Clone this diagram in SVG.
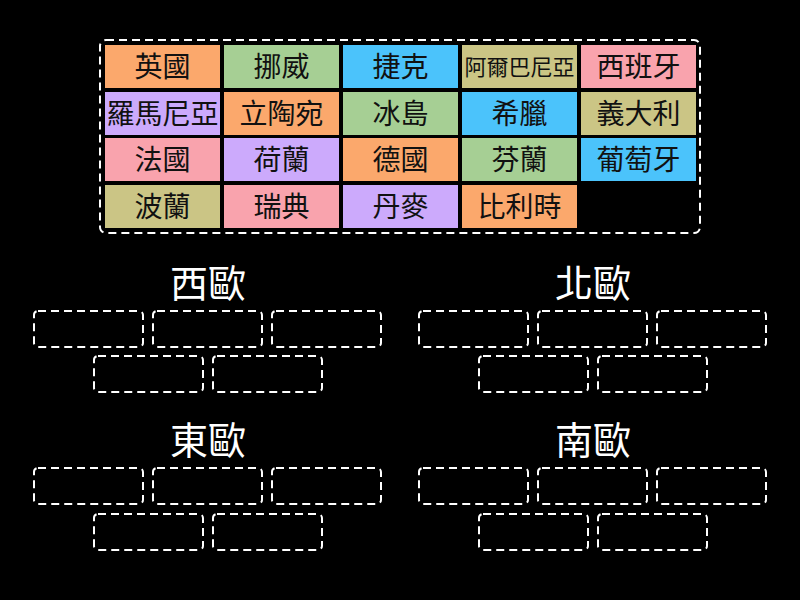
<svg xmlns="http://www.w3.org/2000/svg" width="800" height="600" viewBox="0 0 800 600">
<style>
.bg{fill:#000}
.frame{fill:none;stroke:#fff;stroke-width:2;stroke-dasharray:8 5}
.slot{fill:none;stroke:#fff;stroke-width:2;stroke-dasharray:8 5}
.t{font-family:"Noto Sans CJK TC","Noto Sans CJK SC",sans-serif;font-size:28px;fill:#111;text-anchor:middle}
.s{font-size:22px}
.h{font-family:"Noto Sans CJK TC","Noto Sans CJK SC",sans-serif;font-size:38px;fill:#fff;text-anchor:middle}
.o{fill:#fba86c}.g{fill:#a6cf94}.b{fill:#4bc3fb}.k{fill:#cbc585}.p{fill:#f9a3ad}.v{fill:#ccaafc}
</style>
<rect class="bg" x="0" y="0" width="800" height="600"/>
<rect class="frame" x="100" y="40" width="600" height="193" rx="6"/>
<g id="cards">
<g id="c1"><rect class="o" x="105" y="45" width="115" height="43"/><text class="t" x="162.5" y="77">英國</text></g>
<g id="c2"><rect class="g" x="224" y="45" width="115" height="43"/><text class="t" x="281.5" y="77">挪威</text></g>
<g id="c3"><rect class="b" x="343" y="45" width="115" height="43"/><text class="t" x="400.5" y="77">捷克</text></g>
<g id="c4"><rect class="k" x="462" y="45" width="115" height="43"/><text class="t s" x="519.5" y="74.5">阿爾巴尼亞</text></g>
<g id="c5"><rect class="p" x="581" y="45" width="115" height="43"/><text class="t" x="638.5" y="77">西班牙</text></g>
<g id="c6"><rect class="v" x="105" y="92" width="115" height="43"/><text class="t" x="162.5" y="124">羅馬尼亞</text></g>
<g id="c7"><rect class="o" x="224" y="92" width="115" height="43"/><text class="t" x="281.5" y="124">立陶宛</text></g>
<g id="c8"><rect class="g" x="343" y="92" width="115" height="43"/><text class="t" x="400.5" y="124">冰島</text></g>
<g id="c9"><rect class="b" x="462" y="92" width="115" height="43"/><text class="t" x="519.5" y="124">希臘</text></g>
<g id="c10"><rect class="k" x="581" y="92" width="115" height="43"/><text class="t" x="638.5" y="124">義大利</text></g>
<g id="c11"><rect class="p" x="105" y="138" width="115" height="43"/><text class="t" x="162.5" y="170">法國</text></g>
<g id="c12"><rect class="v" x="224" y="138" width="115" height="43"/><text class="t" x="281.5" y="170">荷蘭</text></g>
<g id="c13"><rect class="o" x="343" y="138" width="115" height="43"/><text class="t" x="400.5" y="170">德國</text></g>
<g id="c14"><rect class="g" x="462" y="138" width="115" height="43"/><text class="t" x="519.5" y="170">芬蘭</text></g>
<g id="c15"><rect class="b" x="581" y="138" width="115" height="43"/><text class="t" x="638.5" y="170">葡萄牙</text></g>
<g id="c16"><rect class="k" x="105" y="185" width="115" height="43"/><text class="t" x="162.5" y="217">波蘭</text></g>
<g id="c17"><rect class="p" x="224" y="185" width="115" height="43"/><text class="t" x="281.5" y="217">瑞典</text></g>
<g id="c18"><rect class="v" x="343" y="185" width="115" height="43"/><text class="t" x="400.5" y="217">丹麥</text></g>
<g id="c19"><rect class="o" x="462" y="185" width="115" height="43"/><text class="t" x="519.5" y="217">比利時</text></g>
</g>
<g id="west">
<text class="h" x="208" y="297">西歐</text>
<rect class="slot" x="34" y="311" width="109" height="36" rx="4"/>
<rect class="slot" x="153" y="311" width="109" height="36" rx="4"/>
<rect class="slot" x="272" y="311" width="109" height="36" rx="4"/>
<rect class="slot" x="94" y="356" width="109" height="36" rx="4"/>
<rect class="slot" x="213" y="356" width="109" height="36" rx="4"/>
</g>
<g id="north">
<text class="h" x="593" y="297">北歐</text>
<rect class="slot" x="419" y="311" width="109" height="36" rx="4"/>
<rect class="slot" x="538" y="311" width="109" height="36" rx="4"/>
<rect class="slot" x="657" y="311" width="109" height="36" rx="4"/>
<rect class="slot" x="479" y="356" width="109" height="36" rx="4"/>
<rect class="slot" x="598" y="356" width="109" height="36" rx="4"/>
</g>
<g id="east">
<text class="h" x="208" y="454">東歐</text>
<rect class="slot" x="34" y="468" width="109" height="36" rx="4"/>
<rect class="slot" x="153" y="468" width="109" height="36" rx="4"/>
<rect class="slot" x="272" y="468" width="109" height="36" rx="4"/>
<rect class="slot" x="94" y="514" width="109" height="36" rx="4"/>
<rect class="slot" x="213" y="514" width="109" height="36" rx="4"/>
</g>
<g id="south">
<text class="h" x="593" y="454">南歐</text>
<rect class="slot" x="419" y="468" width="109" height="36" rx="4"/>
<rect class="slot" x="538" y="468" width="109" height="36" rx="4"/>
<rect class="slot" x="657" y="468" width="109" height="36" rx="4"/>
<rect class="slot" x="479" y="514" width="109" height="36" rx="4"/>
<rect class="slot" x="598" y="514" width="109" height="36" rx="4"/>
</g>
<g id="connectors"/>
</svg>
